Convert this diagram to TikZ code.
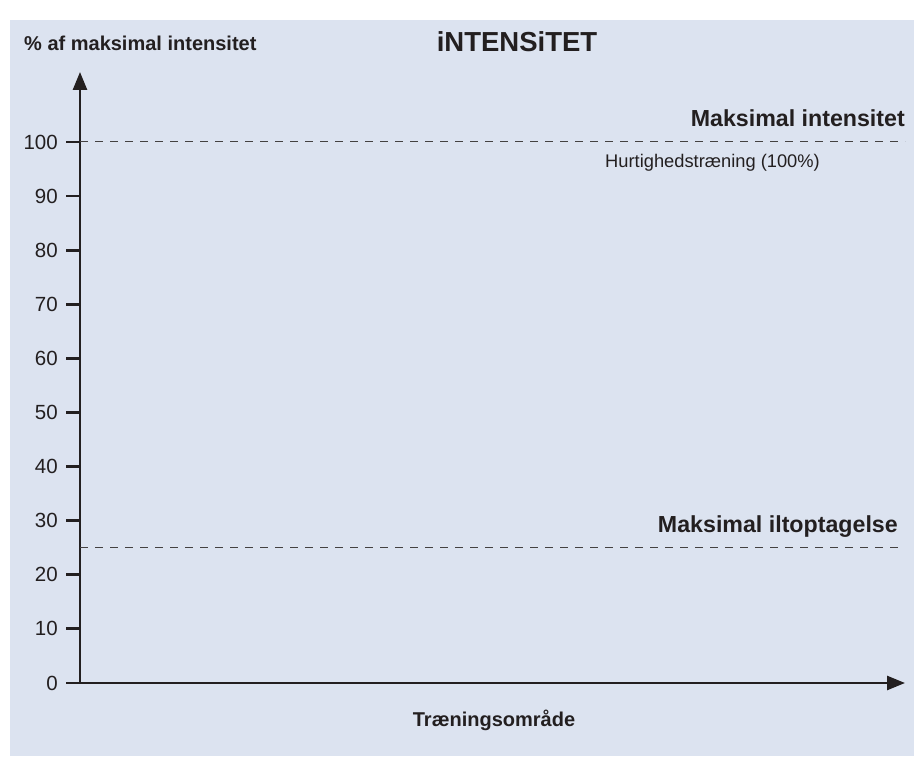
\documentclass[tikz,border=0pt]{standalone}
\usepackage{fontspec}
\setmainfont{Liberation Sans}
\usetikzlibrary{arrows.meta, positioning}
\definecolor{baggrund}{HTML}{DCE3F0}
\definecolor{skrift}{HTML}{231F20}
\tikzstyle{akse} = [draw=skrift, line width=2.6pt, {Triangle[length=18pt,width=14pt]}-{Triangle[length=18pt,width=14pt]}]
\tikzstyle{streg} = [draw=skrift, line width=2.8pt]
\tikzstyle{niveau} = [draw=skrift!85, line width=0.8pt, dash pattern=on 8pt off 7pt]
\tikzstyle{tal} = [font=\fontsize{20.5}{20}\selectfont, text=skrift, anchor=east, inner sep=0pt]
\tikzstyle{akseinfo} = [font=\bfseries\fontsize{20}{20}\selectfont, text=skrift, inner sep=0pt]
\tikzstyle{zone} = [font=\bfseries\fontsize{23.2}{23}\selectfont, text=skrift, inner sep=0pt, anchor=base east]
\tikzstyle{titel} = [font=\bfseries\fontsize{27.5}{27}\selectfont, text=skrift, inner sep=0pt]

\begin{document}
\begin{tikzpicture}[x=1pt, y=1pt]
	\useasboundingbox (0,0) rectangle (914,756);
	\fill[baggrund] (10,0) rectangle (914,736);
	% akser
	\coordinate (origo) at (80,73);
	\coordinate (ytop) at (80,684);
	\coordinate (xslut) at (905,73);
	\foreach \v in {0,...,10}{
		\pgfmathtruncatemacro{\pct}{10*\v}
		\coordinate (a\v) at (80,73+\v*54.1);
		\coordinate (s\v) at (66,73+\v*54.1);
		\node[tal] (t\v) at (58,73+\v*54.1) {\pct};
		\draw[streg] (s\v) -- (a\v);
	}
	\draw[akse] (ytop) -- (origo) -- (xslut);
	% niveauer
	\coordinate (start100) at (80,614.5);
	\coordinate (slut100) at (905,614.5);
	\coordinate (start25) at (80,208.5);
	\coordinate (slut25) at (900,208.5);
	\draw[niveau] (start100) -- (slut100);
	\draw[niveau] (start25) -- (slut25);
	% tekster
	\node[akseinfo, anchor=west] (ytekst) at (24,713) {\% af maksimal intensitet};
	\node[titel] (titel) at (517,714) {iNTENSiTET};
	\node[akseinfo] (xtekst) at (494,36) {Træningsområde};
	\node[zone] (maksint) at (905,629) {Maksimal intensitet};
	\node[font=\fontsize{18.3}{18}\selectfont, text=skrift, inner sep=0pt, anchor=west] (hurtig) at (605,593) {Hurtighedstræning (100\%)};
	\node[zone] (maksilt) at (898,223) {Maksimal iltoptagelse};
\end{tikzpicture}
\end{document}
